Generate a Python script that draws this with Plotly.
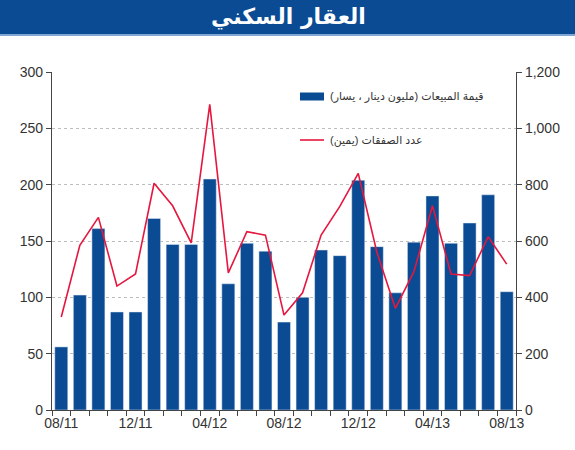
import plotly.graph_objects as go

months = ["08/11","09/11","10/11","11/11","12/11","01/12","02/12","03/12","04/12","05/12",
          "06/12","07/12","08/12","09/12","10/12","11/12","12/12","01/13","02/13","03/13",
          "04/13","05/13","06/13","07/13","08/13"]
sales_value = [56, 102, 161, 87, 87, 170, 147, 147, 205, 112,
               148, 141, 78, 100, 142, 137, 204, 145, 104, 149,
               190, 148, 166, 191, 105]
deals_count = [330, 585, 684, 440, 483, 805, 725, 593, 1085, 487,
               633, 621, 337, 416, 621, 722, 840, 561, 361, 491,
               725, 483, 477, 615, 518]
tick_labels = ["08/11", "12/11", "04/12", "08/12", "12/12", "04/13", "08/13"]
title_text = "العقار السكني"
bar_name = "قيمة المبيعات (مليون دينار ، يسار)"
line_name = "عدد الصفقات (يمين)"

x = list(range(len(months)))
tick_pos = [months.index(t) for t in tick_labels]

BLUE = "#0A4B93"
RED = "#E5173F"
FONT = "Liberation Sans, Arial, DejaVu Sans, sans-serif"

fig = go.Figure()
fig.add_trace(go.Bar(x=x, y=sales_value, name=bar_name, marker_color=BLUE,
                     width=0.7, yaxis="y", showlegend=False))
fig.add_trace(go.Scatter(x=x, y=deals_count, name=line_name, mode="lines",
                         line=dict(color=RED, width=1.6), yaxis="y2", showlegend=False))

W, H = 575, 450
L, R, T, B = 52, 59, 72, 40
pw, ph = W - L - R, H - T - B

def px(xp):
    return (xp - L) / pw

def py(yp):
    return (H - B - yp) / ph

shapes = [
    dict(type="rect", xref="paper", yref="paper", x0=px(0), x1=px(W), y0=py(35), y1=py(0),
         fillcolor=BLUE, line_width=0, layer="below"),
    dict(type="rect", xref="paper", yref="paper", x0=px(0), x1=px(W), y0=py(36), y1=py(34),
         fillcolor="#7FA6D2", line_width=0, layer="below"),
    dict(type="rect", xref="paper", yref="paper", x0=px(300), x1=px(324), y0=py(100.5), y1=py(92.5),
         fillcolor=BLUE, line_width=0),
    dict(type="line", xref="paper", yref="paper", x0=px(300), x1=px(324), y0=py(140), y1=py(140),
         line=dict(color=RED, width=1.6)),
]

annotations = [
    dict(text="<b>" + title_text + "</b>", xref="paper", yref="paper", x=px(288), y=py(17),
         xanchor="center", yanchor="middle", showarrow=False,
         font=dict(size=22, color="white", family="DejaVu Sans, sans-serif")),
    dict(text="\u200f" + bar_name + "\u200f", xref="paper", yref="paper", x=px(328), y=py(96.5),
         xanchor="left", yanchor="middle", showarrow=False,
         font=dict(size=11, color="#333333", family=FONT)),
    dict(text="\u200f" + line_name + "\u200f", xref="paper", yref="paper", x=px(328), y=py(140),
         xanchor="left", yanchor="middle", showarrow=False,
         font=dict(size=11, color="#333333", family=FONT)),
]

fig.update_layout(
    width=W, height=H,
    margin=dict(l=L, r=R, t=T, b=B, autoexpand=False),
    paper_bgcolor="white", plot_bgcolor="white",
    font=dict(family=FONT, size=14, color="#333333"),
    bargap=0.3,
    xaxis=dict(range=[-0.5, len(months) - 0.5], tickvals=tick_pos, ticktext=tick_labels,
               ticks="", showgrid=False, zeroline=False, showline=True,
               linecolor="#444444", linewidth=1.2, tickfont=dict(size=14, color="#333333"),
               minor=dict(ticks="outside", tick0=-0.5, dtick=1, ticklen=5,
                          tickcolor="#444444", showgrid=False)),
    yaxis=dict(range=[0, 300], dtick=50, ticks="outside", ticklen=5, tickcolor="#444444",
               showline=True, linecolor="#444444", linewidth=1.2,
               showgrid=True, gridcolor="#BDBDBD", griddash="dot", gridwidth=1,
               zeroline=False, tickfont=dict(size=14, color="#333333")),
    yaxis2=dict(range=[0, 1200], dtick=200, tickformat=",", overlaying="y", side="right",
                ticks="outside", ticklen=5, tickcolor="#444444",
                showline=True, linecolor="#444444", linewidth=1.2,
                showgrid=False, zeroline=False, tickfont=dict(size=14, color="#333333")),
    shapes=shapes,
    annotations=annotations,
)

fig.write_html("out.html")
